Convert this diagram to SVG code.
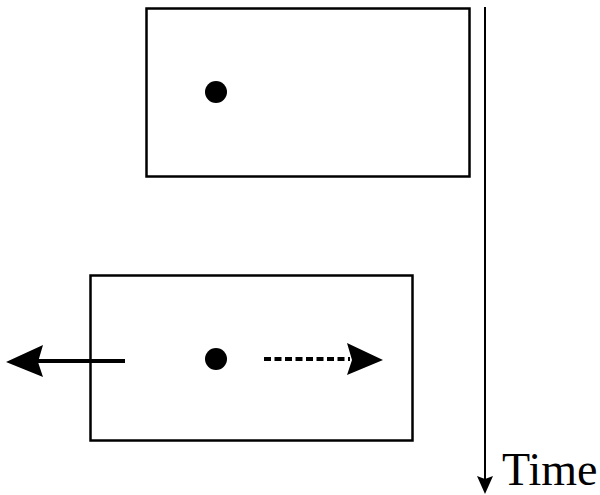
<svg xmlns="http://www.w3.org/2000/svg" width="600" height="495" viewBox="0 0 600 495">
<style>
.box{fill:none;stroke:#000;stroke-width:2.5}
.dot{fill:#000}
.ln{stroke:#000;stroke-width:4;fill:none}
.head{fill:#000}
</style>
<rect width="600" height="495" fill="#fff"/>
<g id="frame1">
<rect class="box" x="146.5" y="8.5" width="323" height="168"/>
<circle class="dot" cx="216" cy="92" r="11"/>
</g>
<g id="frame2">
<rect class="box" x="90.5" y="275.5" width="322" height="165"/>
<circle class="dot" cx="216" cy="359" r="11"/>
</g>
<g id="connectors">
<line class="ln" x1="125" y1="361" x2="38" y2="361"/>
<path class="head" d="M6,362 L43,345 L38,362 L43,377 Z"/>
<line class="ln" x1="264" y1="359" x2="350" y2="359" stroke-dasharray="7,3.5"/>
<path class="head" d="M383,360 L347,343 L352,360 L347,375 Z"/>
<line x1="485" y1="7" x2="485" y2="480" stroke="#000" stroke-width="2"/>
<path class="head" d="M485,494 L477,476 L485,479 L493,476 Z"/>
</g>
<text x="502" y="485" font-family="Liberation Serif, serif" font-size="46">Time</text>
</svg>
